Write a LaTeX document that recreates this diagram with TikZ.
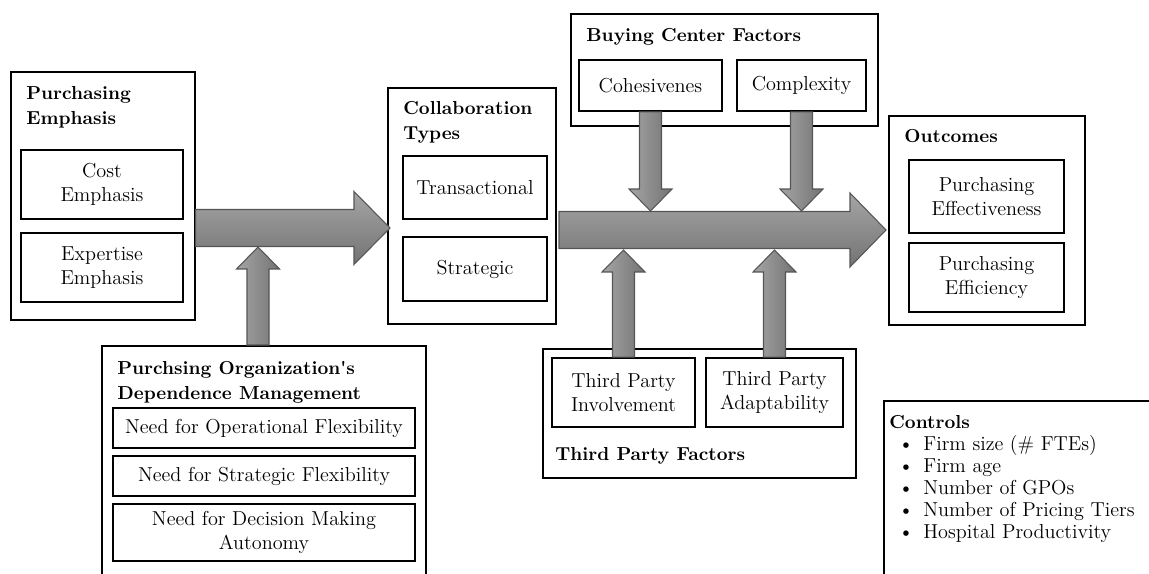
\documentclass[tikz,border=0pt]{standalone}
\usepackage{tikz}
\usetikzlibrary{calc}

\definecolor{arrowlight}{RGB}{165,165,165}
\definecolor{arrowdark}{RGB}{115,115,115}
\definecolor{arrowline}{RGB}{85,85,85}

\newcommand{\fatarrow}[6][hshade]{%
  \path ($(#3)!#6!(#2)$) coordinate (fahead);
  \draw [#1] ($(#2)!#4!90:(#3)$) -- ($(fahead)!#4!90:(#3)$) -- ($(fahead)!#5!90:(#3)$) -- (#3)
    -- ($(fahead)!#5!-90:(#3)$) -- ($(fahead)!#4!-90:(#3)$) -- ($(#2)!#4!-90:(#3)$) -- cycle;
}

\begin{document}
\begin{tikzpicture}[x=0.02cm, y=-0.02cm,
    outerbox/.style={draw, line width=1pt, anchor=north west, inner sep=0pt},
    innerbox/.style={draw, line width=1pt, align=center, inner sep=0pt,
      font=\fontsize{11.5}{13.6}\selectfont},
    boxtitle/.style={anchor=north west, align=left, inner sep=0pt,
      font=\fontsize{10.7}{14.2}\selectfont\bfseries},
    hshade/.style={draw=arrowline, line width=0.6pt, top color=arrowlight, bottom color=arrowdark},
    vshade/.style={draw=arrowline, line width=0.6pt, left color=arrowlight, right color=arrowdark}]
        \useasboundingbox (0,0) rectangle (1149,574);
        \clip (0,0) rectangle (1149,574);

        \node [outerbox, minimum width=3.68cm, minimum height=4.96cm] (pe) at (10,71) {};
        \node [boxtitle] (petitle) at (26,86) {Purchasing\\Emphasis};
        \node [innerbox, minimum width=3.24cm, minimum height=1.38cm] (cost) at (102,184.5) {Cost\\Emphasis};
        \node [innerbox, minimum width=3.24cm, minimum height=1.38cm] (exp) at (102,267.5) {Expertise\\Emphasis};

        \node [outerbox, minimum width=3.36cm, minimum height=4.72cm] (ct) at (387,87) {};
        \node [boxtitle] (cttitle) at (403,101) {Collaboration\\Types};
        \node [innerbox, minimum width=2.88cm, minimum height=1.26cm] (trans) at (475,187.5) {Transactional};
        \node [innerbox, minimum width=2.88cm, minimum height=1.28cm] (strat) at (475,269) {Strategic};

        \node [outerbox, minimum width=6.14cm, minimum height=2.24cm] (bc) at (570,13) {};
        \node [boxtitle] (bctitle) at (586,28) {Buying Center Factors};
        \node [innerbox, minimum width=2.86cm, minimum height=1.02cm] (coh) at (650.5,85.5) {Cohesivenes};
        \node [innerbox, minimum width=2.58cm, minimum height=1.02cm] (cplx) at (801.5,85.5) {Complexity};

        \node [outerbox, minimum width=3.92cm, minimum height=4.18cm] (oc) at (888,115) {};
        \node [boxtitle] (octitle) at (904,129) {Outcomes};
        \node [innerbox, minimum width=3.10cm, minimum height=1.46cm] (peff) at (986.5,196.5) {Purchasing\\Effectiveness};
        \node [innerbox, minimum width=3.10cm, minimum height=1.38cm] (peffi) at (986.5,277.5) {Purchasing\\Efficiency};

        \node [outerbox, minimum width=6.48cm, minimum height=5.2cm] (dm) at (101,345) {};
        \node [boxtitle] (dmtitle) at (117,361) {Purchsing Organization\textquotesingle s\\Dependence Management};
        \node [innerbox, minimum width=6.04cm, minimum height=0.80cm] (nof) at (264,428) {Need for Operational Flexibility};
        \node [innerbox, minimum width=6.04cm, minimum height=0.80cm] (nsf) at (264,476) {Need for Strategic Flexibility};
        \node [innerbox, minimum width=6.04cm, minimum height=1.14cm] (ndm) at (264,532.5) {Need for Decision Making\\Autonomy};

        \node [outerbox, minimum width=6.26cm, minimum height=2.58cm] (tp) at (542,348) {};
        \node [boxtitle] (tptitle) at (555,447) {Third Party Factors};
        \node [innerbox, minimum width=2.86cm, minimum height=1.38cm] (tpi) at (623.5,392.5) {Third Party\\Involvement};
        \node [innerbox, minimum width=2.74cm, minimum height=1.38cm] (tpa) at (774.5,392.5) {Third Party\\Adaptability};

        \node [outerbox, minimum width=6cm, minimum height=4cm] (ctl) at (883,400) {};
        \node [anchor=north west, align=left, inner sep=0pt, font=\fontsize{11.5}{12.5}\selectfont] (ctltext) at (889,415)
        {
          \textbf{\fontsize{10.7}{12.5}\selectfont Controls}\\
          \hspace*{0.18cm}\makebox[0.5cm][l]{\textbullet}Firm size (\# FTEs)\\
          \hspace*{0.18cm}\makebox[0.5cm][l]{\textbullet}Firm age\\
          \hspace*{0.18cm}\makebox[0.5cm][l]{\textbullet}Number of GPOs\\
          \hspace*{0.18cm}\makebox[0.5cm][l]{\textbullet}Number of Pricing Tiers\\
          \hspace*{0.18cm}\makebox[0.5cm][l]{\textbullet}Hospital Productivity
        };

        \coordinate (a1tip) at (390,228);
        \coordinate (a2tail) at (559,230);
        \coordinate (a2tip) at (886,230);
        \coordinate (dmin) at (258,247);
        \coordinate (cohin) at (650.5,211);
        \coordinate (cplxin) at (801.5,211);
        \coordinate (tpiin) at (623.5,250);
        \coordinate (tpain) at (774.5,250);

        \fatarrow{pe.east |- a1tip}{a1tip}{0.37cm}{0.73cm}{0.72cm}
        \fatarrow{a2tail}{a2tip}{0.37cm}{0.74cm}{0.72cm}
        \fatarrow[vshade]{dm.north -| dmin}{dmin}{0.22cm}{0.43cm}{0.44cm}
        \fatarrow[vshade]{coh.south}{cohin}{0.22cm}{0.43cm}{0.44cm}
        \fatarrow[vshade]{cplx.south}{cplxin}{0.22cm}{0.43cm}{0.44cm}
        \fatarrow[vshade]{tpi.north}{tpiin}{0.22cm}{0.43cm}{0.44cm}
        \fatarrow[vshade]{tpa.north}{tpain}{0.22cm}{0.43cm}{0.44cm}
      \end{tikzpicture}
\end{document}
